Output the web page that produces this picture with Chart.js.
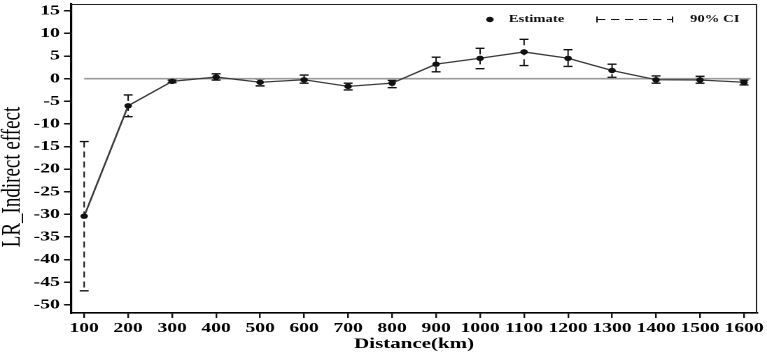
<!DOCTYPE html>
<html>
<head>
<meta charset="utf-8">
<script src="https://cdn.jsdelivr.net/npm/chart.js@4.4.0/dist/chart.umd.min.js"></script>
<style>
  html, body { margin: 0; padding: 0; background: #fff; }
  #chart { display: block; }
</style>
</head>
<body>
<!-- drawn at 548 wide and stretched to 767, like the reference -->
<canvas id="chart" width="548" height="355" style="width:767px;height:355px"></canvas>
<script>
const distances = [100, 200, 300, 400, 500, 600, 700, 800, 900, 1000, 1100, 1200, 1300, 1400, 1500, 1600];
const estimates = [-30.4, -6.0, -0.6, 0.35, -0.8, -0.25, -1.7, -1.0, 3.2, 4.5, 5.9, 4.5, 1.8, -0.25, -0.3, -0.8];
const ciLower   = [-46.9, -8.4, -0.9, -0.3, -1.6, -1.0, -2.5, -2.0, 1.5, 2.2, 2.9, 2.7, 0.3, -1.0, -1.0, -1.4];
const ciUpper   = [-13.9, -3.6, -0.3, 1.06, -0.1, 0.8, -1.0, -0.4, 4.75, 6.7, 8.7, 6.4, 3.2, 0.6, 0.5, -0.3];
const xTicks = [100, 200, 300, 400, 500, 600, 700, 800, 900, 1000, 1100, 1200, 1300, 1400, 1500, 1600];
const yTicks = [-50, -45, -40, -35, -30, -25, -20, -15, -10, -5, 0, 5, 10, 15];
const zeroLine = [100, 1615];

const serif = "'Liberation Serif', 'Times New Roman', serif";

// CI whiskers, frame, y title and legend
const extras = {
  id: 'extras',
  beforeDatasetsDraw(chart) {
    const ctx = chart.ctx, x = chart.scales.x, y = chart.scales.y;
    ctx.save();
    ctx.strokeStyle = '#111';
    distances.forEach((d, i) => {
      const px = x.getPixelForValue(d);
      const top = y.getPixelForValue(ciUpper[i]);
      const bot = y.getPixelForValue(ciLower[i]);
      ctx.lineWidth = 1;
      ctx.setLineDash([6, 4]);
      ctx.beginPath();
      ctx.moveTo(px, top); ctx.lineTo(px, bot);
      ctx.stroke();
      ctx.setLineDash([]);
      ctx.lineWidth = 1.4;
      ctx.beginPath();
      ctx.moveTo(px - 3.2, top); ctx.lineTo(px + 3.2, top);
      ctx.moveTo(px - 3.2, bot); ctx.lineTo(px + 3.2, bot);
      ctx.stroke();
    });
    ctx.restore();
  },
  afterDraw(chart) {
    const ctx = chart.ctx, a = chart.chartArea;
    ctx.save();
    // thin top/right frame
    ctx.strokeStyle = '#222';
    ctx.lineWidth = 1;
    ctx.beginPath();
    ctx.moveTo(a.left, a.top + 0.5); ctx.lineTo(a.right - 0.5, a.top + 0.5); ctx.lineTo(a.right - 0.5, a.bottom);
    ctx.stroke();

    // y axis title, sits a bit below the middle in the reference
    ctx.save();
    ctx.translate(8.8, 177);
    ctx.rotate(-Math.PI / 2);
    ctx.fillStyle = '#000';
    ctx.font = '19px ' + serif;
    ctx.textAlign = 'center';
    ctx.textBaseline = 'middle';
    ctx.fillText('LR_Indirect effect', 0, 0);
    ctx.restore();

    // legend
    const ly = 19.5;
    ctx.fillStyle = '#111';
    ctx.beginPath();
    ctx.arc(350, ly, 2.7, 0, Math.PI * 2);
    ctx.fill();
    ctx.font = 'bold 10.5px ' + serif;
    ctx.textBaseline = 'middle';
    ctx.textAlign = 'left';
    ctx.fillText('Estimate', 363.5, ly);
    ctx.fillText('90% CI', 493, ly);

    ctx.strokeStyle = '#111';
    ctx.lineWidth = 1;
    ctx.setLineDash([6, 4]);
    ctx.beginPath();
    ctx.moveTo(426.5, ly); ctx.lineTo(480.5, ly);
    ctx.stroke();
    ctx.setLineDash([]);
    ctx.beginPath();
    ctx.moveTo(426.5, ly - 3); ctx.lineTo(426.5, ly + 3);
    ctx.moveTo(480.5, ly - 3); ctx.lineTo(480.5, ly + 3);
    ctx.stroke();
    ctx.restore();
  }
};

new Chart(document.getElementById('chart'), {
  type: 'line',
  data: {
    datasets: [
      {
        label: 'Estimate',
        data: distances.map((d, i) => ({ x: d, y: estimates[i] })),
        borderColor: '#3a3a3a',
        borderWidth: 1.3,
        pointRadius: 2.7,
        pointBackgroundColor: '#111',
        pointBorderColor: '#111',
        pointBorderWidth: 0,
        tension: 0,
        order: 1
      },
      {
        label: 'zero',
        data: zeroLine.map(d => ({ x: d, y: 0 })),
        borderColor: '#9a9a9a',
        borderWidth: 1.6,
        pointRadius: 0,
        order: 2
      }
    ]
  },
  plugins: [extras],
  options: {
    responsive: false,
    animation: false,
    devicePixelRatio: 2,
    layout: { padding: { top: 4, right: 7, bottom: 0, left: 0 } },
    plugins: {
      legend: { display: false },
      tooltip: { enabled: false }
    },
    scales: {
      x: {
        type: 'linear',
        min: 70,
        max: 1630,
        afterBuildTicks: s => { s.ticks = xTicks.map(v => ({ value: v })); },
        afterFit: s => { s.height = 42; s.paddingLeft = 0; s.paddingRight = 0; },
        grid: { display: true, drawOnChartArea: false, drawTicks: true, tickLength: 5, color: '#111', lineWidth: 1.2 },
        border: { display: true, color: '#000', width: 1.6 },
        ticks: {
          color: '#000', padding: 2, maxRotation: 0, autoSkip: false,
          callback: v => String(v),
          font: { family: serif, size: 14, weight: 'bold' }
        },
        title: { display: true, text: 'Distance(km)', color: '#000', padding: { top: 0, bottom: 2 }, font: { family: serif, size: 15, weight: 'bold' } }
      },
      y: {
        min: -51.8,
        max: 16.5,
        afterBuildTicks: s => { s.ticks = yTicks.map(v => ({ value: v })); },
        afterFit: s => { s.width = 50.7; s.paddingTop = 0; s.paddingBottom = 0; },
        grid: { display: true, drawOnChartArea: false, drawTicks: true, tickLength: 5, color: '#111', lineWidth: 1.5 },
        border: { display: true, color: '#000', width: 1.6 },
        ticks: {
          color: '#000', padding: 3, autoSkip: false,
          callback: v => String(v),
          font: { family: serif, size: 14, weight: 'bold' }
        },
        title: { display: false }
      }
    }
  }
});
</script>
</body>
</html>
